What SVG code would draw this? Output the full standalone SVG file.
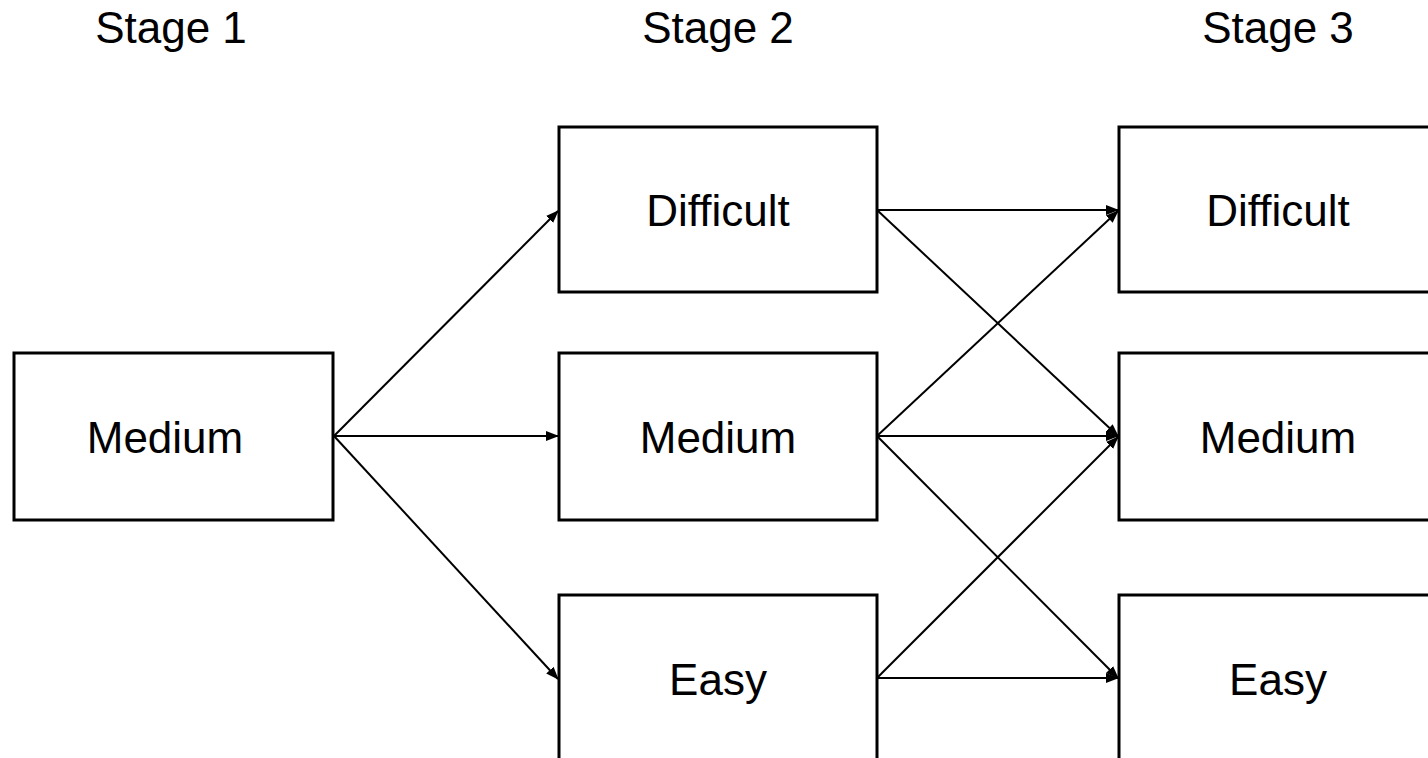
<svg xmlns="http://www.w3.org/2000/svg" width="1428" height="758" viewBox="0 0 1428 758">
<style>
.box{fill:#fff;stroke:#000;stroke-width:3}
.lbl{font-family:"Liberation Sans",Arial,sans-serif;font-size:44px;fill:#000;text-anchor:middle}
.c{stroke:#000;stroke-width:2;fill:none;marker-end:url(#ah)}
</style>
<defs>
<marker id="ah" viewBox="0 0 13 10" refX="12" refY="5" markerWidth="13" markerHeight="10" markerUnits="userSpaceOnUse" orient="auto">
<path d="M0,0 L13,5 L0,10 z" fill="#000"/>
</marker>
</defs>
<rect width="1428" height="758" fill="#fff"/>
<g id="headers">
<text class="lbl" x="171" y="43">Stage 1</text>
<text class="lbl" x="718" y="43">Stage 2</text>
<text class="lbl" x="1278" y="43">Stage 3</text>
</g>
<g id="connectors">
<line class="c" x1="334" y1="436" x2="558" y2="211"/>
<line class="c" x1="334" y1="436" x2="558" y2="436"/>
<line class="c" x1="334" y1="436" x2="558" y2="679"/>
<line class="c" x1="877" y1="210" x2="1118" y2="210"/>
<line class="c" x1="877" y1="210" x2="1118" y2="436"/>
<line class="c" x1="877" y1="436" x2="1118" y2="211"/>
<line class="c" x1="877" y1="436" x2="1118" y2="436"/>
<line class="c" x1="877" y1="436" x2="1118" y2="678"/>
<line class="c" x1="877" y1="678" x2="1118" y2="437"/>
<line class="c" x1="877" y1="678" x2="1118" y2="678"/>
</g>
<g id="s1-medium"><rect class="box" x="14" y="353" width="319" height="167"/><text class="lbl" x="165" y="453">Medium</text></g>
<g id="s2-difficult"><rect class="box" x="559" y="127" width="318" height="165"/><text class="lbl" x="718" y="226">Difficult</text></g>
<g id="s2-medium"><rect class="box" x="559" y="353" width="318" height="167"/><text class="lbl" x="718" y="453">Medium</text></g>
<g id="s2-easy"><rect class="box" x="559" y="595" width="318" height="180"/><text class="lbl" x="718" y="695">Easy</text></g>
<g id="s3-difficult"><rect class="box" x="1119" y="127" width="330" height="165"/><text class="lbl" x="1278" y="226">Difficult</text></g>
<g id="s3-medium"><rect class="box" x="1119" y="353" width="330" height="167"/><text class="lbl" x="1278" y="453">Medium</text></g>
<g id="s3-easy"><rect class="box" x="1119" y="595" width="330" height="180"/><text class="lbl" x="1278" y="695">Easy</text></g>
</svg>
